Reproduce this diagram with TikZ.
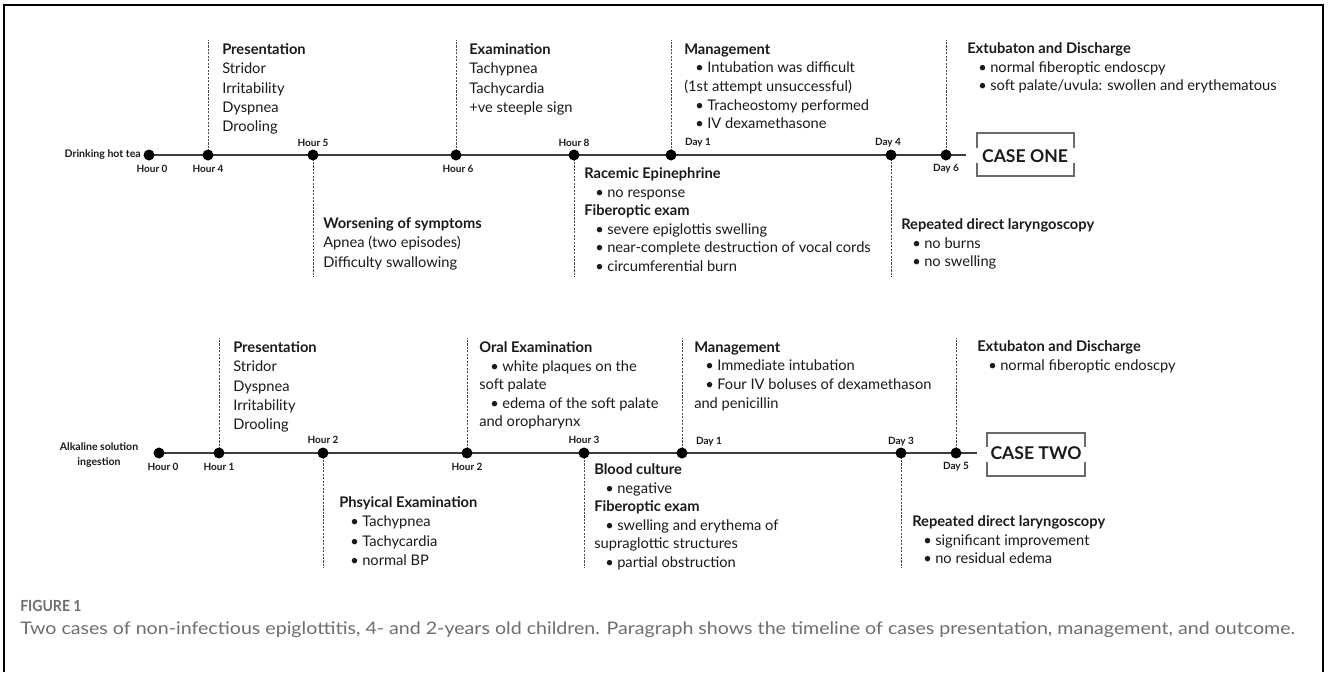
\documentclass[tikz,border=0pt]{standalone}
\usepackage{fontspec}
\setmainfont{Lato}
\newlength\PX
\setlength\PX{0.75pt}
\newcommand\bul{\makebox[23\PX][l]{\hspace*{11\PX}•}}
\definecolor{ink}{HTML}{1A1A1A}
\definecolor{tlgray}{HTML}{3C3C3C}
\definecolor{dashgray}{HTML}{4A4A4A}
\definecolor{boxgray}{HTML}{6A6A6A}
\definecolor{capgray}{HTML}{6E6E6E}
\pgfdeclarelayer{bg}
\pgfsetlayers{bg,main}
\tikzset{
  dot/.style={circle, fill=black, draw=none, minimum size=11\PX, inner sep=0pt},
  tl/.style={draw=tlgray, line width=1.7pt},
  dsh/.style={draw=dashgray, line width=0.75pt, dash pattern=on 1.6pt off 1.0pt},
  blk/.style={anchor=north west, inner sep=0pt, align=left, text=ink,
    font=\fontsize{11pt}{13.95pt}\selectfont},
  plainblk/.style={blk, font=\fontsize{11pt}{14.5pt}\selectfont},
  tick/.style={inner sep=0pt, text=ink, font=\fontsize{7.5pt}{8pt}\selectfont\bfseries},
  startlbl/.style={inner sep=0pt, text=ink, align=center, font=\fontsize{7.9pt}{11.2pt}\selectfont\bfseries},
  casebox/.style={draw=boxgray, line width=0.8pt},
  casetxt/.style={inner sep=0pt, text=ink, font=\fontsize{13.2pt}{15pt}\selectfont\bfseries},
  captxt/.style={anchor=west, inner sep=0pt, text=capgray},
}
\begin{document}
\begin{tikzpicture}[x=0.75pt, y=-0.75pt]
\useasboundingbox (0,0) rectangle (1328,672);
% frame
\draw[line width=1.1pt, black] (4,672) -- (4,5) -- (1323,5) -- (1323,672);

% ================= CASE ONE =================
\node[dot] (a0)  at (149,155) {};
\node[dot] (a4)  at (208,155) {};
\node[dot] (a5)  at (313,155) {};
\node[dot] (a6)  at (456,155) {};
\node[dot] (a8)  at (574,155) {};
\node[dot] (ad1) at (671,155) {};
\node[dot] (ad4) at (891,155) {};
\node[dot] (ad6) at (946,155) {};
\coordinate (aend) at (966,155);
\coordinate (a4t) at (208,40);
\coordinate (a6t) at (456,40);
\coordinate (ad1t) at (671,40);
\coordinate (ad6t) at (946,40);
\coordinate (a5b) at (313,277);
\coordinate (a8b) at (574,277);
\coordinate (ad4b) at (891,277);
\begin{pgfonlayer}{bg}
\draw[tl] (a0.center) -- (aend);
\draw[dsh] (a4.center) -- (a4t);
\draw[dsh] (a6.center) -- (a6t);
\draw[dsh] (ad1.center) -- (ad1t);
\draw[dsh] (ad6.center) -- (ad6t);
\draw[dsh] (a5.center) -- (a5b);
\draw[dsh] (a8.center) -- (a8b);
\draw[dsh] (ad4.center) -- (ad4b);
\end{pgfonlayer}

\node[startlbl, anchor=east] (a0s) at (141,155) {Drinking hot tea};
\node[tick] (a0l) at (152,169) {Hour 0};
\node[tick] (a4l) at (208,169) {Hour 4};
\node[tick] (a5l) at (313,143) {Hour 5};
\node[tick] (a6l) at (458,169) {Hour 6};
\node[tick] (a8l) at (574,143) {Hour 8};
\node[tick] (ad1l) at (698,143) {Day 1};
\node[tick] (ad4l) at (888,143) {Day 4};
\node[tick] (ad6l) at (946,169) {Day 6};

\node[plainblk] (p1) at (222,43.4) {\textbf{Presentation}\\Stridor\\Irritability\\Dyspnea\\Drooling};
\node[plainblk] (e1) at (469,43.4) {\textbf{Examination}\\Tachypnea\\Tachycardia\\+ve steeple sign};
\node[blk] (m1) at (684,43.4) {\textbf{Management}\\\bul Intubation was difficult\\(1st attempt unsuccessful)\\\bul Tracheostomy performed\\\bul IV dexamethasone};
\node[blk] (x1) at (967,42.4) {\textbf{Extubaton and Discharge}\\\bul normal fiberoptic endoscpy\\\bul soft palate/uvula: swollen and erythematous};
\node[plainblk] (w1) at (323,217.4) {\textbf{Worsening of symptoms}\\Apnea (two episodes)\\Difficulty swallowing};
\node[blk] (r1) at (584,167.4) {\textbf{Racemic Epinephrine}\\\bul no response\\\textbf{Fiberoptic exam}\\\bul severe epiglottis swelling\\\bul near-complete destruction of vocal cords\\\bul circumferential burn};
\node[blk] (l1) at (901,218.4) {\textbf{Repeated direct laryngoscopy}\\\bul no burns\\\bul no swelling};

% case one box
\draw[casebox] (977,148) -- (977,133) -- (1074,133) -- (1074,148);
\draw[casebox] (977,163) -- (977,176) -- (1074,176) -- (1074,163);
\node[casetxt] (c1) at (1025,156) {CASE ONE};

% ================= CASE TWO =================
\node[dot] (b0)  at (159,453) {};
\node[dot] (b1)  at (219,453) {};
\node[dot] (b2)  at (323,453) {};
\node[dot] (b2b) at (467,453) {};
\node[dot] (b3)  at (584,453) {};
\node[dot] (bd1) at (682,453) {};
\node[dot] (bd3) at (901,453) {};
\node[dot] (bd5) at (956,453) {};
\coordinate (bend) at (977,453);
\coordinate (b1t) at (219,338);
\coordinate (b2bt) at (467,338);
\coordinate (bd1t) at (682,338);
\coordinate (bd5t) at (956,338);
\coordinate (b2d) at (323,568);
\coordinate (b3d) at (584,568);
\coordinate (bd3d) at (901,568);
\begin{pgfonlayer}{bg}
\draw[tl] (b0.center) -- (bend);
\draw[dsh] (b1.center) -- (b1t);
\draw[dsh] (b2b.center) -- (b2bt);
\draw[dsh] (bd1.center) -- (bd1t);
\draw[dsh] (bd5.center) -- (bd5t);
\draw[dsh] (b2.center) -- (b2d);
\draw[dsh] (b3.center) -- (b3d);
\draw[dsh] (bd3.center) -- (bd3d);
\end{pgfonlayer}

\node[startlbl] (b0s) at (99,455) {Alkaline solution\\ingestion};
\node[tick] (b0l) at (163,467) {Hour 0};
\node[tick] (b1l) at (219,467) {Hour 1};
\node[tick] (b2l) at (323,440) {Hour 2};
\node[tick] (b2bl) at (467,467) {Hour 2};
\node[tick] (b3l) at (584,440) {Hour 3};
\node[tick] (bd1l) at (709,442) {Day 1};
\node[tick] (bd3l) at (901,442) {Day 3};
\node[tick] (bd5l) at (956,467) {Day 5};

\node[plainblk] (p2) at (233,341.4) {\textbf{Presentation}\\Stridor\\Dyspnea\\Irritability\\Drooling};
\node[blk] (o2) at (479,341.4) {\textbf{Oral Examination}\\\bul white plaques on the\\soft palate\\\bul edema of the soft palate\\and oropharynx};
\node[blk] (m2) at (694,341.4) {\textbf{Management}\\\bul Immediate intubation\\\bul Four IV boluses of dexamethason\\and penicillin};
\node[blk] (x2) at (977,340.4) {\textbf{Extubaton and Discharge}\\\bul normal fiberoptic endoscpy};
\node[plainblk] (pe2) at (339,496.4) {\textbf{Phsyical Examination}\\\bul Tachypnea\\\bul Tachycardia\\\bul normal BP};
\node[blk] (bc2) at (594,463.4) {\textbf{Blood culture}\\\bul negative\\\textbf{Fiberoptic exam}\\\bul swelling and erythema of\\supraglottic structures\\\bul partial obstruction};
\node[blk] (l2) at (912,515.4) {\textbf{Repeated direct laryngoscopy}\\\bul significant improvement\\\bul no residual edema};

% case two box
\draw[casebox] (987,447) -- (987,433) -- (1085,433) -- (1085,447);
\draw[casebox] (987,462) -- (987,476) -- (1085,476) -- (1085,462);
\node[casetxt] (c2) at (1036,453) {CASE TWO};

% ================= CAPTION =================
\node[captxt, font=\fontsize{11.5pt}{13pt}\selectfont\bfseries] (fig) at (20,606) {\resizebox{46pt}{\height}{FIGURE 1}};
\node[captxt, font=\fontsize{13pt}{15pt}\selectfont] (cap) at (20,630) {\resizebox{956pt}{\height}{Two cases of non-infectious epiglottitis, 4- and 2-years old children. Paragraph shows the timeline of cases presentation, management, and outcome.}};
\end{tikzpicture}
\end{document}
